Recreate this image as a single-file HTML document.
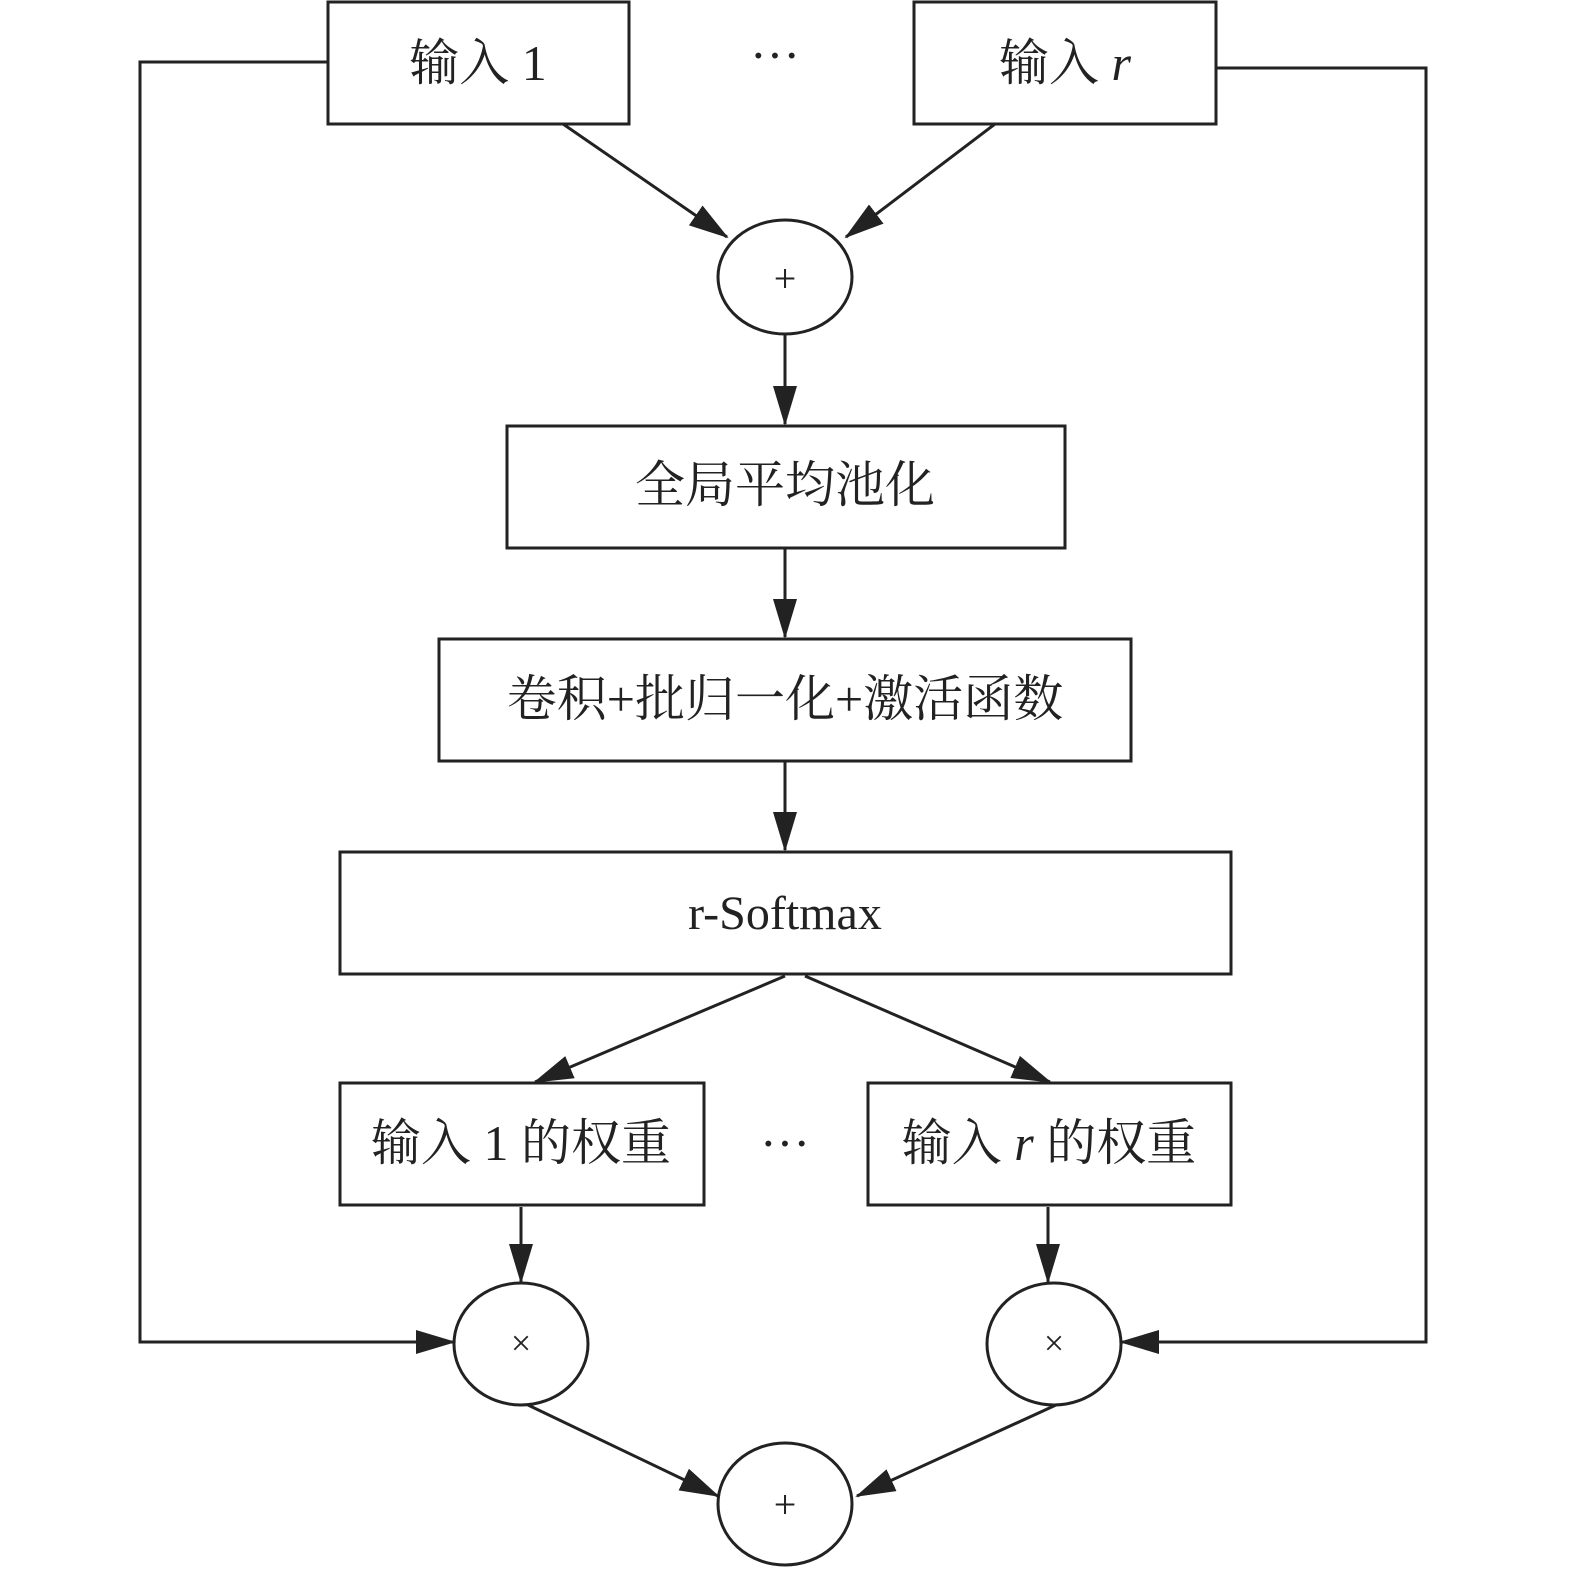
<!DOCTYPE html>
<html><head><meta charset="utf-8"><style>
html,body{margin:0;padding:0;background:#fff}
svg{display:block}
text{font-family:"Liberation Serif","Noto Serif CJK SC",serif;fill:#222}
</style></head><body>
<svg width="1575" height="1576" viewBox="0 0 1575 1576" xmlns="http://www.w3.org/2000/svg">
<defs><marker id="a" markerWidth="40" markerHeight="24" refX="38" refY="12" orient="auto" markerUnits="userSpaceOnUse"><path d="M0,0 L40,12 L0,24 Z" fill="#222"/></marker></defs>
<g fill="none" stroke="#222" stroke-width="3">
<rect x="328" y="2" width="301" height="122"/>
<rect x="914" y="2" width="302" height="122"/>
<ellipse cx="785" cy="277" rx="67" ry="57"/>
<rect x="507" y="426" width="558" height="122"/>
<rect x="439" y="639" width="692" height="122"/>
<rect x="340" y="852" width="891" height="122"/>
<rect x="340" y="1083" width="364" height="122"/>
<rect x="868" y="1083" width="363" height="122"/>
<ellipse cx="521" cy="1344" rx="67" ry="61"/>
<ellipse cx="1054" cy="1344" rx="67" ry="61"/>
<ellipse cx="785" cy="1504" rx="67" ry="61"/>
<polyline points="328,62 140,62 140,1342 454,1342" marker-end="url(#a)"/>
<polyline points="1216,68 1426,68 1426,1342 1121,1342" marker-end="url(#a)"/>
<line x1="563" y1="124" x2="727" y2="237" marker-end="url(#a)"/>
<line x1="995" y1="124" x2="846" y2="237" marker-end="url(#a)"/>
<line x1="785" y1="334" x2="785" y2="424" marker-end="url(#a)"/>
<line x1="785" y1="548" x2="785" y2="637" marker-end="url(#a)"/>
<line x1="785" y1="761" x2="785" y2="850" marker-end="url(#a)"/>
<line x1="785" y1="976" x2="535" y2="1082" marker-end="url(#a)"/>
<line x1="805" y1="976" x2="1050" y2="1082" marker-end="url(#a)"/>
<line x1="521" y1="1207" x2="521" y2="1282" marker-end="url(#a)"/>
<line x1="1048" y1="1207" x2="1048" y2="1282" marker-end="url(#a)"/>
<line x1="528" y1="1405" x2="718" y2="1496" marker-end="url(#a)"/>
<line x1="1056" y1="1405" x2="857" y2="1496" marker-end="url(#a)"/>
</g>
<g font-size="50" text-anchor="middle">
<text x="478" y="80">输入 1</text>
<text x="775" y="72">···</text>
<text x="1065" y="80">输入 <tspan font-style="italic">r</tspan></text>
<text x="785" y="292" font-size="40">+</text>
<text x="785" y="502">全局平均池化</text>
<text x="785" y="716">卷积+批归一化+激活函数</text>
<text x="785" y="929" font-size="48">r-Softmax</text>
<text x="521" y="1160">输入 1 的权重</text>
<text x="785" y="1160">···</text>
<text x="1049" y="1160">输入 <tspan font-style="italic">r</tspan> 的权重</text>
<text x="521" y="1355" font-size="36">×</text>
<text x="1054" y="1355" font-size="36">×</text>
<text x="785" y="1518" font-size="40">+</text>
</g>
</svg>
</body></html>
